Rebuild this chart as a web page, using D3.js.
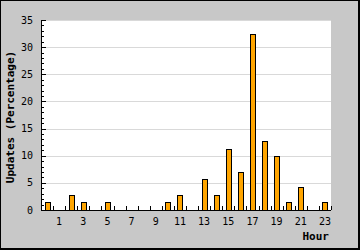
<!DOCTYPE html>
<html><head><meta charset="utf-8">
<script src="https://cdn.jsdelivr.net/npm/d3@7"></script>
<style>html,body{margin:0;padding:0;background:#c8c8c8;}svg{display:block;}</style>
</head><body>
<svg id="c" width="360" height="250"></svg>
<script>
const hours = d3.range(0, 24);
const values = [1.41,0,2.82,1.41,0,1.41,0,0,0,0,1.41,2.82,0,5.63,2.82,11.27,7.04,32.39,12.68,9.86,1.41,4.23,0,1.41];
const xTickLabels = [1,3,5,7,9,11,13,15,17,19,21,23];
const yTicks = [0,5,10,15,20,25,30,35];
const yTitle = "Updates (Percentage)";
const xTitle = "Hour";

const svg = d3.select("#c");
const L = 41, R = 331, T = 20, B = 210;
const mono = "'DejaVu Sans Mono', monospace";

svg.append("rect").attr("x",0.5).attr("y",0.5).attr("width",358).attr("height",248)
  .attr("fill","#c8c8c8").attr("stroke","#000").attr("stroke-width",1);
svg.append("line").attr("x1",359).attr("x2",359).attr("y1",0).attr("y2",250).attr("stroke","#000").attr("stroke-width",2);
svg.append("line").attr("x1",0).attr("x2",360).attr("y1",249).attr("y2",249).attr("stroke","#000").attr("stroke-width",2);

const x = d3.scaleBand().domain(hours).range([L, R]).padding(0);
const y = d3.scaleLinear().domain([0, 35]).range([B, T]);

svg.append("rect").attr("x",L).attr("y",T).attr("width",R-L).attr("height",B-T).attr("fill","#fff");

// gridlines
svg.append("g").selectAll("line").data(yTicks.filter(v=>v>0)).join("line")
  .attr("x1",L).attr("x2",R).attr("y1",d=>Math.round(y(d))+0.5).attr("y2",d=>Math.round(y(d))+0.5)
  .attr("stroke","#d9d9d9").attr("stroke-width",1);

// bars
svg.append("g").selectAll("rect").data(hours.filter(h=>values[h]>0)).join("rect")
  .attr("x",h=>Math.round(x(h)+x.bandwidth()/2-2.5)+0.5)
  .attr("width",5)
  .attr("y",h=>Math.round(y(values[h]))+0.5)
  .attr("height",h=>Math.round(B)-Math.round(y(values[h])))
  .attr("fill","#ffa500").attr("stroke","#000").attr("stroke-width",1);

// y axis minor/major ticks
const ticksAll = d3.range(0, 36);
svg.append("g").selectAll("line").data(ticksAll).join("line")
  .attr("x1",L).attr("x2",d=>d%5===0?L+5:L+3)
  .attr("y1",d=>Math.round(y(d))+0.5).attr("y2",d=>Math.round(y(d))+0.5)
  .attr("stroke","#000");

// x ticks at category boundaries
svg.append("g").selectAll("line").data(d3.range(1,25)).join("line")
  .attr("x1",d=>Math.round(d<24?x(d):R)+0.5).attr("x2",d=>Math.round(d<24?x(d):R)+0.5)
  .attr("y1",B).attr("y2",B-4).attr("stroke","#000");

// axis lines
svg.append("line").attr("x1",L+0.5).attr("x2",L+0.5).attr("y1",T).attr("y2",B+0.5).attr("stroke","#000");
svg.append("line").attr("x1",L).attr("x2",R).attr("y1",B+0.5).attr("y2",B+0.5).attr("stroke","#000");

// y labels
svg.append("g").selectAll("text").data(yTicks).join("text")
  .attr("x",33).attr("y",d=>y(d)+3.6).attr("text-anchor","end")
  .attr("font-family",mono).attr("font-size",10).attr("fill","#000").text(d=>d);

// x labels
svg.append("g").selectAll("text").data(xTickLabels).join("text")
  .attr("x",d=>x(d)+x.bandwidth()/2).attr("y",225).attr("text-anchor","middle")
  .attr("font-family",mono).attr("font-size",10).attr("fill","#000").text(d=>d);

// titles
svg.append("text").attr("transform","translate(14,117) rotate(-90)").attr("text-anchor","middle")
  .attr("font-family",mono).attr("font-weight","bold").attr("font-size",11).text(yTitle);
svg.append("text").attr("x",329).attr("y",240).attr("text-anchor","end")
  .attr("font-family",mono).attr("font-weight","bold").attr("font-size",11).text(xTitle);
</script>
</body></html>
